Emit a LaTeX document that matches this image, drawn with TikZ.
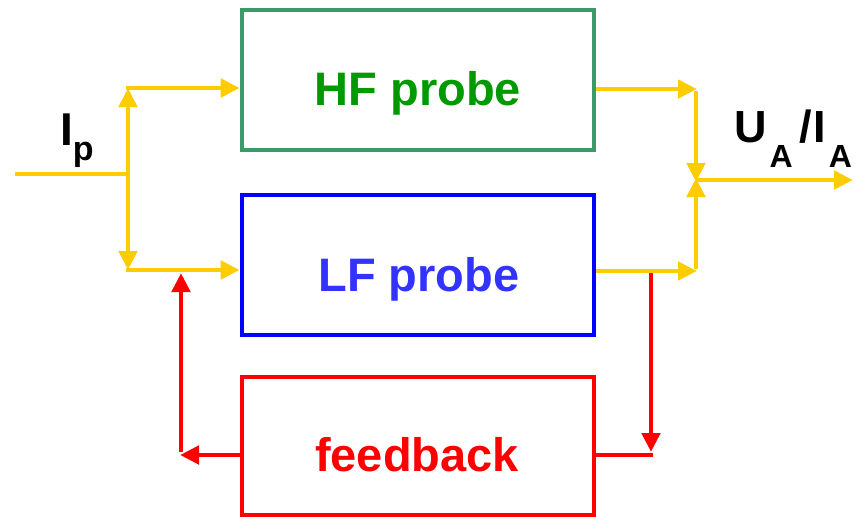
\documentclass[tikz,border=0pt]{standalone}
\usepackage{fontspec}
\setmainfont{Liberation Sans}
\usetikzlibrary{arrows.meta}
\definecolor{yel}{RGB}{255,204,0}
\definecolor{hfborder}{RGB}{58,154,106}
\definecolor{hftext}{RGB}{0,153,0}
\definecolor{lfborder}{RGB}{0,0,255}
\definecolor{lftext}{RGB}{51,51,255}
\definecolor{fbred}{RGB}{255,0,0}
\tikzset{
  blockbox/.style={draw, line width=4.6pt, minimum width=352pt, inner sep=0pt, rectangle},
  blocktext/.style={anchor=base, font=\fontsize{47}{47}\selectfont\bfseries, inner sep=0pt},
  yline/.style={draw=yel, line width=4.8pt},
  yarrow/.style={yline, -{Triangle[length=19pt,width=18pt]}},
  rline/.style={draw=fbred, line width=4.8pt},
  rarrow/.style={rline, -{Triangle[length=19pt,width=18pt]}},
  biglabel/.style={anchor=base west, inner sep=0pt, font=\bfseries}
}
\begin{document}
\begin{tikzpicture}[x=1pt,y=-1pt]
\useasboundingbox (0,0) rectangle (860,517);
% blocks
\node[blockbox, draw=hfborder, minimum height=140pt] (hf) at (418,80) {};
\node[blockbox, draw=lfborder, minimum height=140pt] (lf) at (418,265) {};
\node[blockbox, draw=fbred, minimum height=138pt] (fb) at (418,446) {};
\node[blocktext, text=hftext] (hft) at (418,105) {HF probe};
\node[blocktext, text=lftext] (lft) at (419,291) {LF probe};
\node[blocktext, text=fbred] (fbt) at (417,471) {feedback};
% labels
\node[biglabel] (ip) at (60,145) {\fontsize{46}{46}\selectfont I\raisebox{-15pt}{\fontsize{34}{34}\selectfont p}};
\node[biglabel] (ua) at (734,142) {\fontsize{45}{45}\selectfont U\hspace{3pt}\raisebox{-25pt}{\fontsize{32}{32}\selectfont A}\hspace{7pt}/\hspace{1pt}I\hspace{3pt}\raisebox{-25pt}{\fontsize{32}{32}\selectfont A}};
% coordinates
\coordinate (in) at (15,174);
\coordinate (split) at (130,174);
\coordinate (a1) at (128,88);
\coordinate (a2) at (128,270);
\coordinate (s0) at (128,174);
\coordinate (b1) at (696,89);
\coordinate (b2) at (696,271);
\coordinate (m) at (696,180);
\coordinate (out) at (853,180);
\coordinate (r1) at (651,273);
\coordinate (r2) at (651,452);
\coordinate (r3) at (653,455);
\coordinate (l1) at (180,455);
\coordinate (l2) at (181,452);
\coordinate (l3) at (181,273);
% yellow input split
\draw[yline] (in) -- (split);
\draw[yarrow] (s0) -- (a1);
\draw[yarrow] (s0) -- (a2);
\draw[yarrow] ([xshift=-2pt]a1) -- (a1 -| hf.west);
\draw[yarrow] ([xshift=-2pt]a2) -- (a2 -| lf.west);
% yellow output merge
\draw[yarrow] (b1 -| hf.east) -- ([xshift=1pt]b1);
\draw[yarrow] (b2 -| lf.east) -- ([xshift=1pt]b2);
\draw[yarrow] ([yshift=-2pt]b1) -- ([yshift=-2pt]m);
\draw[yarrow] ([yshift=2pt]b2) -- ([yshift=2pt]m);
\draw[yarrow] (m) -- (out);
% red feedback loop
\draw[rarrow] (r1) -- (r2);
\draw[rline] (r3 -| fb.east) -- (r3);
\draw[rarrow] (l1 -| fb.west) -- (l1);
\draw[rarrow] (l2) -- (l3);
\end{tikzpicture}
\end{document}
